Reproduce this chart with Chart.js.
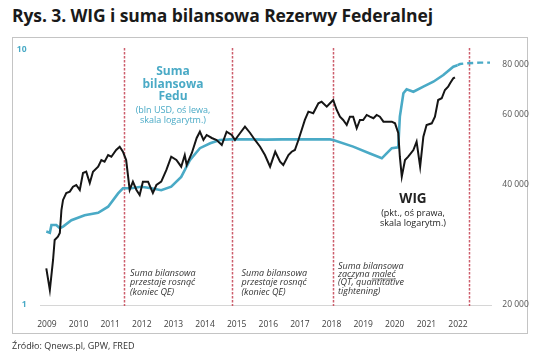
<!DOCTYPE html>
<html><head><meta charset="utf-8">
<script src="https://cdn.jsdelivr.net/npm/chart.js@4/dist/chart.umd.min.js"></script>
<style>
html,body{margin:0;padding:0;background:#fff;}
#wrap{position:relative;width:536px;height:355px;overflow:hidden;}
#title{position:absolute;left:12px;top:3px;font:bold 17.5px "Open Sans",sans-serif;color:#1a1a1a;white-space:nowrap;letter-spacing:-0.1px;}
#box{position:absolute;left:12px;top:37px;width:516px;height:297px;border:1px solid #c4c4c4;box-sizing:border-box;}
#src{position:absolute;left:12px;top:339px;font:9px "Open Sans",sans-serif;color:#333;white-space:nowrap;}
canvas{position:absolute;left:0;top:0;}
</style></head>
<body><div id="wrap"><div id="title">Rys. 3. WIG i suma bilansowa Rezerwy Federalnej</div><div id="box"></div><canvas id="c" width="536" height="355"></canvas><div id="src">Źródło: Qnews.pl, GPW, FRED</div></div>
<script>
// Fed balance sheet (trillions USD, left log axis)
const fedDates  = [2009.18,2009.29,2009.34,2009.49,2009.60,2009.70,2009.96,2010.37,2010.79,2011.10,2011.41,2011.56,2011.82,2012.13,2012.44,2012.75,2013.06,2013.37,2013.64,2013.95,2014.27,2014.57,2014.88,2015.5,2016.0,2016.5,2017.0,2017.5,2017.99,2018.09,2018.71,2019.23,2019.60,2019.75,2019.91,2020.11,2020.16,2020.27,2020.37,2020.58,2020.89,2021.20,2021.51,2021.82,2021.95];
const fedValues = [1.94,1.92,2.06,2.06,2.00,2.03,2.15,2.25,2.30,2.43,2.74,2.87,2.87,2.91,2.87,2.82,2.91,3.18,3.70,4.12,4.31,4.44,4.46,4.46,4.45,4.46,4.46,4.46,4.46,4.44,4.18,3.93,3.76,3.93,4.12,4.15,5.48,6.77,7.01,6.86,7.18,7.51,7.98,8.60,8.72];
// Fed balance sheet projection (dashed)
const fedFcDates  = [2021.95,2022.03,2022.24,2022.65,2022.96];
const fedFcValues = [8.72,8.81,8.87,8.92,8.92];
// WIG index (points, right log axis)
const wigDates  = [2009.18,2009.29,2009.39,2009.44,2009.54,2009.60,2009.65,2009.70,2009.80,2009.91,2010.01,2010.11,2010.22,2010.32,2010.42,2010.53,2010.63,2010.79,2010.89,2010.99,2011.10,2011.20,2011.35,2011.46,2011.56,2011.66,2011.77,2011.87,2011.98,2012.08,2012.18,2012.34,2012.49,2012.60,2012.75,2012.91,2013.06,2013.22,2013.37,2013.48,2013.54,2013.70,2013.85,2013.95,2014.06,2014.16,2014.32,2014.47,2014.63,2014.78,2014.94,2015.04,2015.20,2015.35,2015.51,2015.66,2015.82,2015.97,2016.13,2016.29,2016.44,2016.54,2016.70,2016.80,2016.90,2017.01,2017.11,2017.21,2017.32,2017.47,2017.63,2017.73,2017.89,2017.99,2018.09,2018.20,2018.30,2018.40,2018.51,2018.61,2018.71,2018.82,2018.92,2019.02,2019.13,2019.23,2019.34,2019.44,2019.54,2019.65,2019.75,2019.91,2020.01,2020.11,2020.16,2020.22,2020.32,2020.42,2020.58,2020.68,2020.79,2020.89,2020.99,2021.15,2021.25,2021.35,2021.46,2021.56,2021.66,2021.72,2021.82,2021.87];
const wigValues = [24720,21810,25940,29110,29670,30320,34620,36690,38200,38490,39620,40000,38880,42880,43200,40470,43200,44460,46210,45770,47560,47100,48960,49900,48480,46210,38880,40780,38880,37760,40780,40780,38200,40000,40780,43640,47100,46210,44460,47560,44900,48120,52480,54420,51880,53400,52480,51880,50400,54420,53400,51880,54020,56020,54020,51880,49900,47560,44460,48480,45770,44900,47560,48480,48960,51880,54970,58240,61100,60540,64120,64720,62900,64120,65360,61700,59360,58240,56580,59360,59360,55520,58240,58240,59940,59360,58820,59940,59360,57680,57680,57680,57120,54020,47100,41980,46210,47100,48960,51380,44460,52880,56580,57120,59360,65360,66020,69240,70580,71980,74080,74520];
// Axis labels and markers
const xTickLabels = ['2009','2010','2011','2012','2013','2014','2015','2016','2017','2018','2019','2020','2021','2022'];
const leftTicks = [1, 10];
const rightTicks = [20000, 40000, 60000, 80000];
const markerDates = [2011.59, 2014.96, 2018.09, 2022.32];

const TEAL = '#4aaac6';
const toXY = (xs, ys) => xs.map((x, i) => ({x, y: ys[i]}));

const overlay = {
  id: 'overlay',
  beforeDatasetsDraw(chart) {
    const ctx = chart.ctx, xs = chart.scales.x;
    ctx.save();
    ctx.strokeStyle = 'rgba(200,76,92,0.9)';
    ctx.lineWidth = 1.5;
    ctx.setLineDash([2.5, 1.5]);
    markerDates.forEach(d => {
      const px = Math.round(xs.getPixelForValue(d)) + 0.5;
      ctx.beginPath(); ctx.moveTo(px, 48); ctx.lineTo(px, 306); ctx.stroke();
    });
    ctx.restore();
  },
  afterDatasetsDraw(chart) {
    const ctx = chart.ctx;
    ctx.save();
    ctx.textBaseline = 'middle';
    ctx.textAlign = 'center';
    ctx.fillStyle = TEAL;
    ctx.font = 'bold 12px "Open Sans", sans-serif';
    ctx.fillText('Suma', 173, 72);
    ctx.fillText('bilansowa', 173, 84.5);
    ctx.fillText('Fedu', 173, 97);
    ctx.font = '9px "Open Sans", sans-serif';
    ctx.fillText('(bln USD, oś lewa,', 173, 110);
    ctx.fillText('skala logarytm.)', 173, 120.5);

    ctx.fillStyle = '#222';
    ctx.font = 'bold 13.5px "Open Sans", sans-serif';
    ctx.fillText('WIG', 413, 199);
    ctx.font = '9px "Open Sans", sans-serif';
    ctx.fillText('(pkt., oś prawa,', 413, 213);
    ctx.fillText('skala logarytm.)', 413, 223);

    ctx.textAlign = 'left';
    ctx.fillStyle = '#333';
    ctx.font = 'italic 9px "Open Sans", sans-serif';
    const b1 = ['Suma bilansowa', 'przestaje rosnąć', '(koniec QE)'];
    b1.forEach((t, i) => { ctx.fillText(t, 130, 273 + i * 9.5); });
    b1.forEach((t, i) => { ctx.fillText(t, 241.5, 273 + i * 9.5); });
    const b3 = ['Suma bilansowa', 'zaczyna maleć', '(QT, quantitative', 'tightening)'];
    b3.forEach((t, i) => { ctx.fillText(t, 338, 266 + i * 8.4); });
    // underline "maleć"
    const pre = ctx.measureText('zaczyna ').width;
    const w = ctx.measureText('maleć').width;
    ctx.strokeStyle = '#333'; ctx.lineWidth = 0.7;
    ctx.beginPath(); ctx.moveTo(338 + pre, 279); ctx.lineTo(338 + pre + w, 279); ctx.stroke();
    ctx.restore();
  }
};

new Chart(document.getElementById('c'), {
  type: 'line',
  data: {
    datasets: [
      {label: 'Fed', data: toXY(fedDates, fedValues), yAxisID: 'yL', borderColor: TEAL, borderWidth: 2.6, pointRadius: 0, tension: 0, order: 2},
      {label: 'Fed prognoza', data: toXY(fedFcDates, fedFcValues), yAxisID: 'yL', borderColor: TEAL, borderWidth: 2.4, borderDash: [6, 4], pointRadius: 0, tension: 0, order: 3},
      {label: 'WIG', data: toXY(wigDates, wigValues), yAxisID: 'yR', borderColor: '#151515', borderWidth: 2, pointRadius: 0, tension: 0, order: 1}
    ]
  },
  options: {
    responsive: false,
    animation: false,
    layout: {padding: {top: 50, left: 0, right: 0, bottom: 0}},
    plugins: {legend: {display: false}, tooltip: {enabled: false}, title: {display: false}},
    scales: {
      x: {
        type: 'linear', min: 2009, max: 2023, bounds: 'data',
        grid: {display: false},
        border: {display: true, color: '#d6d6d6', width: 1},
        afterBuildTicks: s => { s.ticks = xTickLabels.map((l, i) => ({value: 2009.2 + i * 0.982})); },
        afterFit: s => { s.height = 50; },
        ticks: {autoSkip: false, maxRotation: 0, padding: 6, color: '#404040', font: {family: '"Open Sans", sans-serif', size: 8.5},
          callback: (v, i) => xTickLabels[i]}
      },
      yL: {
        type: 'logarithmic', position: 'left', min: 1, max: 10, bounds: 'data',
        grid: {display: false}, border: {display: false},
        afterBuildTicks: s => { s.ticks = leftTicks.map(v => ({value: v})); },
        afterFit: s => { s.width = 40.5; },
        ticks: {padding: 6, color: TEAL, font: {family: '"Open Sans", sans-serif', size: 8.5, weight: 'bold'}, callback: v => String(v)}
      },
      yR: {
        type: 'logarithmic', position: 'right', min: 20000, max: 87240, bounds: 'data',
        grid: {display: false}, border: {display: false},
        afterBuildTicks: s => { s.ticks = rightTicks.map(v => ({value: v})); },
        afterFit: s => { s.width = 44.7; },
        ticks: {padding: 3, color: '#555', font: {family: '"Open Sans", sans-serif', size: 8.5},
          callback: v => String(v).replace(/\B(?=(\d{3})+(?!\d))/g, ' ')}
      }
    }
  },
  plugins: [overlay]
});
</script>
</body></html>
